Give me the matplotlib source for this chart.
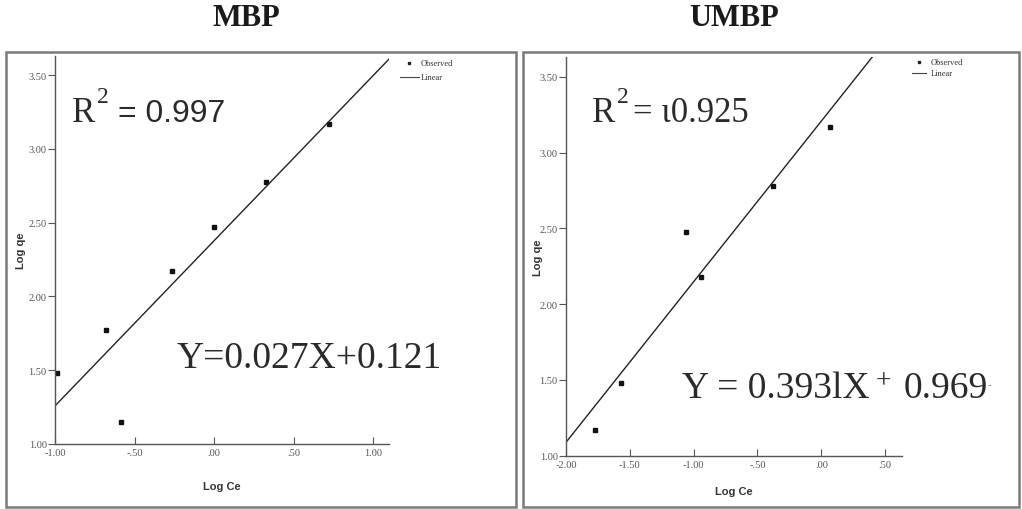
import numpy as np
import matplotlib
matplotlib.use("Agg")
import matplotlib.pyplot as plt
from matplotlib.patches import Rectangle
from matplotlib.lines import Line2D

# ---- data ----
mbp_log_ce = [-0.985, -0.68, -0.583, -0.266, 0.0, 0.325, 0.723]
mbp_log_qe = [1.48, 1.776, 1.15, 2.175, 2.474, 2.776, 3.172]

umbp_log_ce = [-1.773, -1.569, -1.062, -0.944, -0.375, 0.069]
umbp_log_qe = [1.17, 1.478, 2.478, 2.177, 2.781, 3.173]

mbp_xticks = [-1.0, -0.5, 0.0, 0.5, 1.0]
mbp_xticklabels = ["-1.00", "-.50", ".00", ".50", "1.00"]
umbp_xticks = [-2.0, -1.5, -1.0, -0.5, 0.0, 0.5]
umbp_xticklabels = ["-2.00", "-1.50", "-1.00", "-.50", ".00", ".50"]
yticks = [1.0, 1.5, 2.0, 2.5, 3.0, 3.5]
yticklabels = ["1.00", "1.50", "2.00", "2.50", "3.00", "3.50"]

titles = ["MBP", "UMBP"]
r2_values = ["0.997", "\u03b90.925"]

W, H = 1022, 510
fig = plt.figure(figsize=(W / 100, H / 100), dpi=100)
fig.patch.set_facecolor("white")

SERIF = "Liberation Serif"
SANS = "Liberation Sans"


def fx(px):
    return px / W


def fy(py):
    return 1 - py / H


# panel frames
for x0, x1 in [(6, 516), (523, 1019)]:
    fig.patches.append(Rectangle((fx(x0), fy(508)), fx(x1) - fx(x0), fy(53) - fy(508),
                                 transform=fig.transFigure, fill=False,
                                 edgecolor="#7a7a7a", linewidth=1.8))


def make_panel(rect, xs, ys, xlim, xticks, xticklabels):
    ax = fig.add_axes(rect)
    ax.set_xlim(*xlim)
    ax.set_ylim(1.0, 3.63)
    for s in ["top", "right"]:
        ax.spines[s].set_visible(False)
    for s in ["left", "bottom"]:
        ax.spines[s].set_color("#555555")
        ax.spines[s].set_linewidth(1.0)
    ax.set_xticks(xticks)
    ax.set_xticklabels(xticklabels, fontfamily=SERIF, fontsize=7.5, color="#555555")
    ax.set_yticks(yticks)
    ax.set_yticklabels(yticklabels, fontfamily=SERIF, fontsize=7.5, color="#555555")
    ax.tick_params(axis="x", direction="in", length=5, width=0.8, color="#555555", pad=3)
    ax.tick_params(axis="y", direction="out", length=5, width=0.8, color="#555555", pad=1)
    ax.set_xlabel("Log Ce", fontfamily=SANS, fontsize=8, fontweight="bold", color="#333333")
    ax.set_ylabel("Log qe", fontfamily=SANS, fontsize=8, fontweight="bold", color="#333333")

    # observed points
    ax.plot(xs, ys, linestyle="none", marker="s", markersize=2.6, color="#111111")
    # least-squares linear fit across the full x range
    slope, intercept = np.polyfit(xs, ys, 1)
    xl = np.array(xlim)
    ax.plot(xl, slope * xl + intercept, color="#222222", linewidth=1.0)
    return ax


axL = make_panel([fx(55), fy(445), fx(389) - fx(55), fy(57) - fy(445)],
                 mbp_log_ce, mbp_log_qe, (-1.0, 1.10), mbp_xticks, mbp_xticklabels)
axL.xaxis.set_label_coords(0.5, -0.095)
axL.yaxis.set_label_coords(-0.087, 0.5)

axR = make_panel([fx(566), fy(456.7), fx(901.7) - fx(566), fy(58.3) - fy(456.7)],
                 umbp_log_ce, umbp_log_qe, (-2.0, 0.63), umbp_xticks, umbp_xticklabels)
axR.xaxis.set_label_coords(0.5, -0.075)
axR.yaxis.set_label_coords(-0.068, 0.5)

# titles
fig.text(fx(246), fy(19), titles[0], fontfamily=SERIF, fontsize=22, fontweight="bold",
         ha="center", va="center", color="#1a1a1a")
fig.text(fx(734), fy(19), titles[1], fontfamily=SERIF, fontsize=22, fontweight="bold",
         ha="center", va="center", color="#1a1a1a")

# legends
for (dx, dy, lx0, lx1, ly) in [(409, 64, 400, 419, 78), (919, 63, 912, 926, 74)]:
    fig.add_artist(Line2D([fx(dx)], [fy(dy)], marker="s", markersize=2, color="#222222",
                          transform=fig.transFigure))
    fig.text(fx(dx + 12), fy(dy), "Observed", fontfamily=SERIF, fontsize=6,
             ha="left", va="center", color="#333333")
    fig.add_artist(Line2D([fx(lx0), fx(lx1)], [fy(ly), fy(ly)], color="#444444",
                          linewidth=0.8, transform=fig.transFigure))
    fig.text(fx(dx + 12), fy(ly), "Linear", fontfamily=SERIF, fontsize=6,
             ha="left", va="center", color="#333333")

# R-squared annotations
txt_color = "#2a2a2a"
fig.text(fx(72), fy(122), "R", fontfamily=SERIF, fontsize=25, color=txt_color,
         ha="left", va="baseline")
fig.text(fx(97), fy(103), "2", fontfamily=SERIF, fontsize=17, color=txt_color,
         ha="left", va="baseline")
fig.text(fx(118), fy(122), "= " + r2_values[0], fontfamily=SANS, fontsize=23,
         color=txt_color, ha="left", va="baseline")

fig.text(fx(592), fy(122), "R", fontfamily=SERIF, fontsize=25, color=txt_color,
         ha="left", va="baseline")
fig.text(fx(617), fy(103), "2", fontfamily=SERIF, fontsize=17, color=txt_color,
         ha="left", va="baseline")
fig.text(fx(633), fy(122), "= " + r2_values[1], fontfamily=SERIF, fontsize=25,
         color=txt_color, ha="left", va="baseline")

# fitted equations
fig.text(fx(177), fy(368), "Y=0.027X+0.121", fontfamily=SERIF, fontsize=27,
         color=txt_color, ha="left", va="baseline")
fig.text(fx(682), fy(398), "Y = 0.393lX", fontfamily=SERIF, fontsize=27,
         color=txt_color, ha="left", va="baseline")
fig.text(fx(876), fy(388), "+", fontfamily=SERIF, fontsize=20,
         color=txt_color, ha="left", va="baseline")
fig.text(fx(904), fy(398), "0.969", fontfamily=SERIF, fontsize=27,
         color=txt_color, ha="left", va="baseline")
fig.text(fx(988), fy(388), "-", fontfamily=SERIF, fontsize=8,
         color="#777777", ha="left", va="baseline")

fig.savefig("out.png", dpi=100, facecolor="white")
